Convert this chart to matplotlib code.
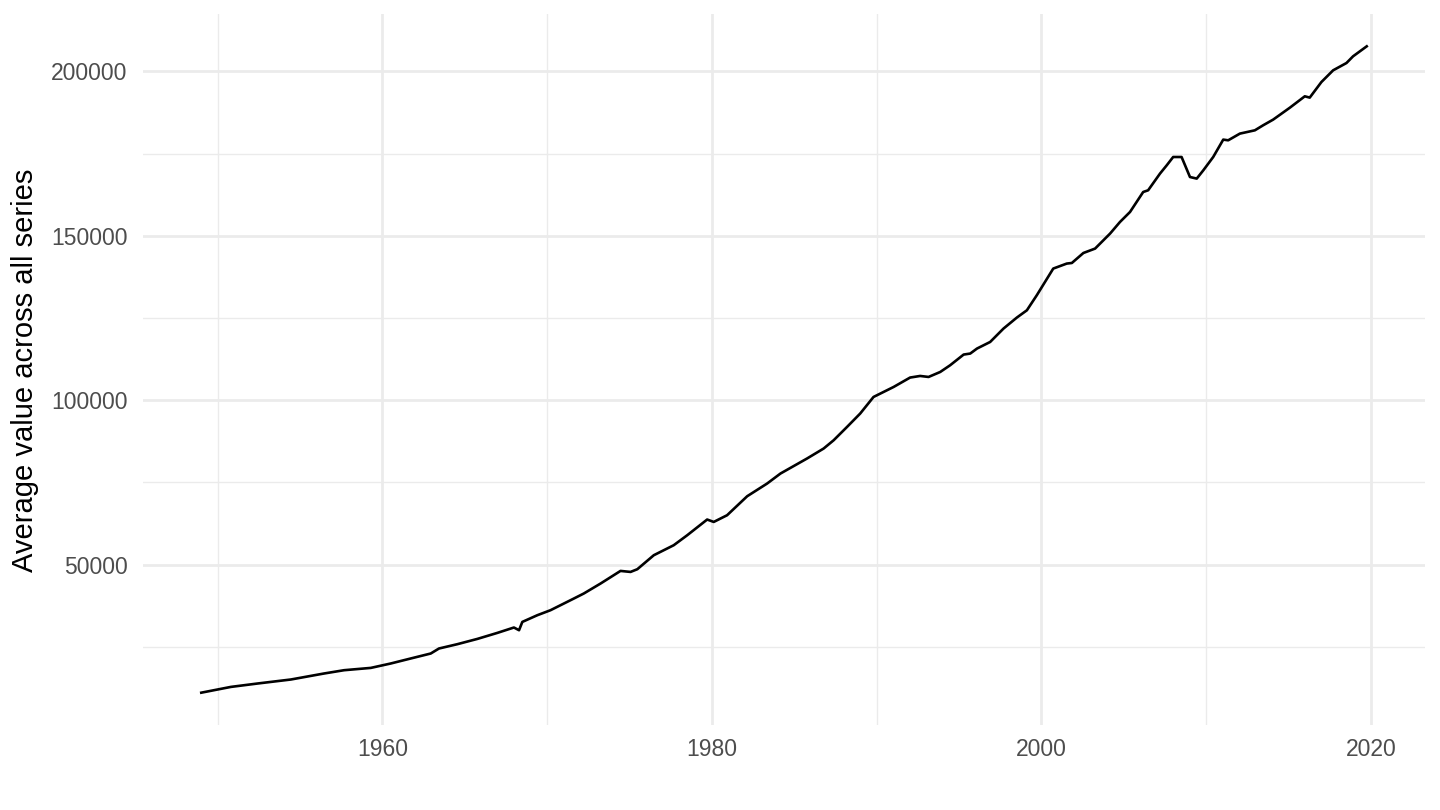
import matplotlib.pyplot as plt

# values (year, average value)
years = [1949.0, 1950.80, 1952.42, 1954.44, 1956.45, 1957.67, 1959.29, 1960.50,
         1961.71, 1962.93, 1963.43, 1964.54, 1965.76, 1966.97, 1967.98, 1968.29,
         1968.49, 1969.40, 1970.20, 1971.62, 1972.22, 1973.24, 1974.45, 1975.06,
         1975.47, 1976.47, 1977.68, 1978.50, 1979.71, 1980.11, 1980.92, 1982.14,
         1983.35, 1984.16, 1985.77, 1986.78, 1987.39, 1988.20, 1989.00, 1989.81,
         1991.03, 1992.03, 1992.64, 1993.15, 1993.86, 1994.46, 1995.28, 1995.68,
         1996.09, 1996.89, 1997.70, 1998.51, 1999.12, 1999.72, 2000.72, 2001.54,
         2001.85, 2002.55, 2003.26, 2004.17, 2004.77, 2005.38, 2006.18, 2006.48,
         2007.20, 2007.61, 2008.00, 2008.51, 2009.02, 2009.43, 2009.83, 2010.43,
         2011.04, 2011.34, 2012.05, 2012.96, 2013.46, 2014.07, 2015.09, 2015.99,
         2016.29, 2017.00, 2017.71, 2018.52, 2018.92, 2019.75]
values = [11100, 12857, 13890, 15106, 16930, 17933, 18632, 19970,
          21490, 23009, 24529, 25836, 27447, 29270, 30912, 30091,
          32614, 34650, 36170, 39726, 41246, 44285, 48115, 47811,
          48632, 52887, 55927, 58966, 63738, 63009, 65045, 70820,
          74680, 77720, 82280, 85319, 87842, 91884, 95957, 101003,
          104043, 106900, 107386, 107082, 108602, 110638, 113890, 114194,
          115714, 117720, 121793, 125136, 127355, 131914, 140030, 141550,
          141732, 144771, 146109, 150668, 154194, 157234, 163313, 163829,
          168905, 171430, 173950, 173950, 167870, 167384, 169906, 173950,
          179238, 179025, 181062, 182065, 183586, 185318, 188965, 192400,
          192005, 196747, 200303, 202522, 204558, 207598]

x_major = [1960, 1980, 2000, 2020]
x_minor = [1950, 1970, 1990, 2010]
y_major = [50000, 100000, 150000, 200000]
y_minor = [25000, 75000, 125000, 175000]

plt.rcParams['font.family'] = ['Liberation Sans', 'DejaVu Sans']

fig = plt.figure(figsize=(14.4, 8.1), dpi=100)
ax = fig.add_axes([143 / 1440, 85 / 810, 1282 / 1440, 711 / 810])

ax.plot(years, values, color='black', linewidth=1.9, zorder=3)

span = max(years) - min(years)
ax.set_xlim(min(years) - 0.05 * span, max(years) + 0.05 * span)
vspan = max(values) - min(values)
ax.set_ylim(min(values) - 0.05 * vspan, max(values) + 0.05 * vspan)

ax.set_xticks(x_major)
ax.set_xticks(x_minor, minor=True)
ax.set_yticks(y_major)
ax.set_yticks(y_minor, minor=True)
ax.set_yticklabels([str(v) for v in y_major])

ax.grid(which='major', color='#EBEBEB', linewidth=2.0)
ax.grid(which='minor', color='#EBEBEB', linewidth=1.0)
ax.set_axisbelow(True)
for s in ax.spines.values():
    s.set_visible(False)
ax.tick_params(which='both', length=0, labelsize=16.5, labelcolor='#4D4D4D')
ax.tick_params(axis='y', pad=11)
ax.tick_params(axis='x', pad=9)

fig.text(25 / 1440, 1 - 370 / 810, 'Average value across all series', rotation=90,
         ha='center', va='center', fontsize=21, color='black')

fig.savefig('out.png', dpi=100, facecolor='white')
